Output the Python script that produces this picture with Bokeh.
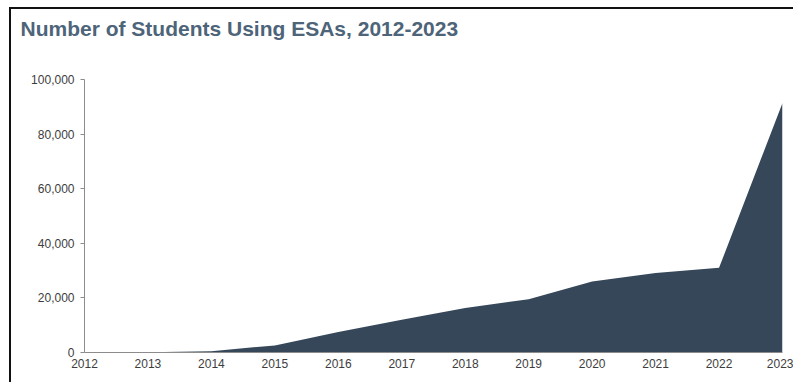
from bokeh.plotting import figure
from bokeh.models import FixedTicker, NumeralTickFormatter, Range1d, ColumnDataSource, Title
from bokeh.embed import file_html
from bokeh.resources import INLINE

title_text = "Number of Students Using ESAs, 2012-2023"
years = [2012, 2013, 2014, 2015, 2016, 2017, 2018, 2019, 2020, 2021, 2022, 2023]
students = [0, 100, 500, 2600, 7500, 12000, 16300, 19500, 26000, 29100, 31000, 91400]
y_ticks = [0, 20000, 40000, 60000, 80000, 100000]

src = ColumnDataSource(dict(x=years, y=students))

p = figure(width=784, height=375, output_backend="svg", toolbar_location=None,
           x_range=Range1d(2012, 2023), y_range=Range1d(0, 100000),
           min_border_left=73, min_border_right=13, min_border_bottom=32, min_border_top=70)
p.styles = {"border-top": "2px solid #111", "border-left": "2px solid #111"}
p.margin = (7, 0, 0, 9)

p.varea(x="x", y1=0, y2="y", source=src, fill_color="#354759")

# spacer between title and plot area
spacer = Title(text=" ", text_font="Liberation Sans", text_font_size="21px", standoff=8)
p.add_layout(spacer, "above")

p.title.text = title_text
p.title.text_font = "Liberation Sans"
p.title.text_font_size = "21px"
p.title.text_color = "#4d6479"
p.title.text_font_style = "bold"
p.title.vertical_align = "top"
p.title.standoff = 10
p.title.offset = -64

p.outline_line_color = None
p.xgrid.grid_line_color = None
p.ygrid.grid_line_color = None

for ax in (p.xaxis, p.yaxis):
    ax.axis_line_color = "#8c8c8c"
    ax.major_tick_line_color = "#8c8c8c"
    ax.minor_tick_line_color = None
    ax.major_label_text_font = "Liberation Sans"
    ax.major_label_text_font_size = "12px"
    ax.major_label_text_color = "#3d3d3d"

p.xaxis.ticker = FixedTicker(ticks=years)
p.xaxis.major_tick_out = 0
p.xaxis.major_tick_in = 0
p.xaxis.major_label_standoff = 6

p.yaxis.ticker = FixedTicker(ticks=y_ticks)
p.yaxis.formatter = NumeralTickFormatter(format="0,0")
p.yaxis.major_tick_out = 4
p.yaxis.major_tick_in = 0
p.yaxis.major_label_standoff = 6

open("out.html", "w").write(file_html(p, INLINE))
